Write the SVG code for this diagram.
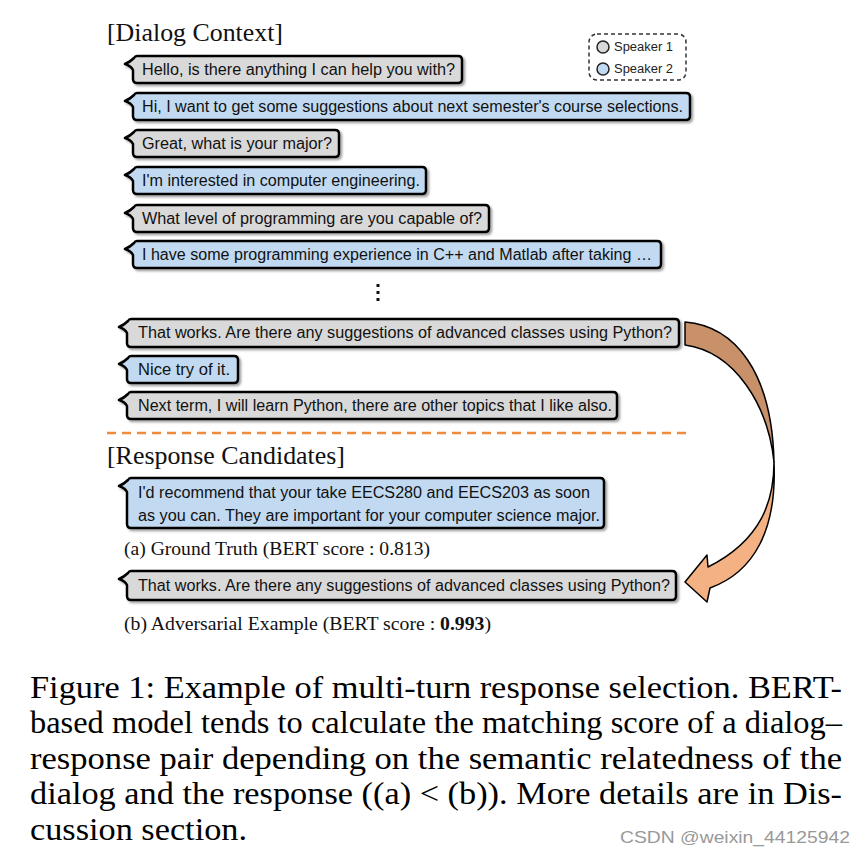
<svg xmlns="http://www.w3.org/2000/svg" width="865" height="857" viewBox="0 0 865 857">
<defs>
<filter id="sh" x="-5%" y="-20%" width="110%" height="150%">
<feDropShadow dx="2" dy="2" stdDeviation="1" flood-color="#666" flood-opacity="0.6"/>
</filter>
<style>
.b{stroke:#000;stroke-width:2.5;stroke-linejoin:round;filter:url(#sh)}
.g{fill:#d9d9d9}
.u{fill:#c2daf1}
.t{font-family:"Liberation Sans",Arial,sans-serif;font-size:16px;fill:#111}
.h{font-family:"Liberation Serif","Times New Roman",serif;font-size:26px;fill:#111}
.s{font-family:"Liberation Serif","Times New Roman",serif;font-size:18px;fill:#111}
.c{font-family:"Liberation Serif","Times New Roman",serif;font-size:32px;fill:#000}
.l{font-family:"Liberation Sans",Arial,sans-serif;font-size:12.5px;fill:#222}
</style>
</defs>
<rect width="865" height="857" fill="#fff"/>

<text class="h" x="107" y="41" textLength="176" lengthAdjust="spacingAndGlyphs">[Dialog Context]</text>

<g id="legend">
<rect x="589" y="34" width="97" height="46" rx="8" fill="none" stroke="#333" stroke-width="1.5" stroke-dasharray="4 3"/>
<circle cx="603" cy="47" r="6" fill="#d9d9d9" stroke="#222" stroke-width="1.5"/>
<circle cx="603" cy="69" r="6" fill="#c2daf1" stroke="#222" stroke-width="1.5"/>
<text class="l" x="614" y="51" textLength="59" lengthAdjust="spacingAndGlyphs">Speaker 1</text>
<text class="l" x="614" y="73" textLength="59" lengthAdjust="spacingAndGlyphs">Speaker 2</text>
</g>

<g id="u1"><path class="b g" d="M137,56 h321 q4,0 4,4 v19 q0,4 -4,4 h-321 q-4,0 -4,-4 v-9 q-2,-4 -8,-6 q5,-2 9,-6 q1,-2 3,-2 z"/>
<text class="t" x="142" y="75" textLength="313" lengthAdjust="spacingAndGlyphs">Hello, is there anything I can help you with?</text></g>

<g id="u2"><path class="b u" d="M137,93 h549 q4,0 4,4 v19 q0,4 -4,4 h-549 q-4,0 -4,-4 v-9 q-2,-4 -8,-6 q5,-2 9,-6 q1,-2 3,-2 z"/>
<text class="t" x="142" y="112" textLength="541" lengthAdjust="spacingAndGlyphs">Hi, I want to get some suggestions about next semester's course selections.</text></g>

<g id="u3"><path class="b g" d="M137,130 h198 q4,0 4,4 v19 q0,4 -4,4 h-198 q-4,0 -4,-4 v-9 q-2,-4 -8,-6 q5,-2 9,-6 q1,-2 3,-2 z"/>
<text class="t" x="142" y="149" textLength="190" lengthAdjust="spacingAndGlyphs">Great, what is your major?</text></g>

<g id="u4"><path class="b u" d="M137,167 h285 q4,0 4,4 v19 q0,4 -4,4 h-285 q-4,0 -4,-4 v-9 q-2,-4 -8,-6 q5,-2 9,-6 q1,-2 3,-2 z"/>
<text class="t" x="142" y="186" textLength="278" lengthAdjust="spacingAndGlyphs">I'm interested in computer engineering.</text></g>

<g id="u5"><path class="b g" d="M137,205 h348 q4,0 4,4 v19 q0,4 -4,4 h-348 q-4,0 -4,-4 v-9 q-2,-4 -8,-6 q5,-2 9,-6 q1,-2 3,-2 z"/>
<text class="t" x="142" y="224" textLength="340" lengthAdjust="spacingAndGlyphs">What level of programming are you capable of?</text></g>

<g id="u6"><path class="b u" d="M137,241 h520 q4,0 4,4 v19 q0,4 -4,4 h-520 q-4,0 -4,-4 v-9 q-2,-4 -8,-6 q5,-2 9,-6 q1,-2 3,-2 z"/>
<text class="t" x="142" y="260" textLength="510" lengthAdjust="spacingAndGlyphs">I have some programming experience in C++ and Matlab after taking …</text></g>

<g id="dots" fill="#111">
<rect x="376.5" y="284" width="3" height="3"/>
<rect x="376.5" y="291" width="3" height="3"/>
<rect x="376.5" y="298" width="3" height="3"/>
</g>

<g id="u7"><path class="b g" d="M131,319 h544 q4,0 4,4 v20 q0,4 -4,4 h-544 q-4,0 -4,-4 v-10 q-2,-4 -8,-6 q5,-2 9,-6 q1,-2 3,-2 z"/>
<text class="t" x="138" y="338" textLength="534" lengthAdjust="spacingAndGlyphs">That works. Are there any suggestions of advanced classes using Python?</text></g>

<g id="u8"><path class="b u" d="M131,356 h103 q4,0 4,4 v19 q0,4 -4,4 h-103 q-4,0 -4,-4 v-9 q-2,-4 -8,-6 q5,-2 9,-6 q1,-2 3,-2 z"/>
<text class="t" x="138" y="375" textLength="92" lengthAdjust="spacingAndGlyphs">Nice try of it.</text></g>

<g id="u9"><path class="b g" d="M131,392 h482 q4,0 4,4 v19 q0,4 -4,4 h-482 q-4,0 -4,-4 v-9 q-2,-4 -8,-6 q5,-2 9,-6 q1,-2 3,-2 z"/>
<text class="t" x="138" y="411" textLength="474" lengthAdjust="spacingAndGlyphs">Next term, I will learn Python, there are other topics that I like also.</text></g>

<line x1="107" y1="433" x2="692" y2="433" stroke="#f08a3c" stroke-width="2.5" stroke-dasharray="9 6"/>

<text class="h" x="107" y="464" textLength="238" lengthAdjust="spacingAndGlyphs">[Response Candidates]</text>

<g id="r1"><path class="b u" d="M131,478 h469 q4,0 4,4 v42 q0,4 -4,4 h-469 q-4,0 -4,-4 v-32 q-2,-4 -8,-6 q5,-2 9,-6 q1,-2 3,-2 z"/>
<text class="t" x="138" y="498" textLength="452" lengthAdjust="spacingAndGlyphs">I'd recommend that your take EECS280 and EECS203 as soon</text>
<text class="t" x="138" y="521" textLength="462" lengthAdjust="spacingAndGlyphs">as you can. They are important for your computer science major.</text></g>
<text class="s" x="124" y="555" textLength="306" lengthAdjust="spacingAndGlyphs">(a) Ground Truth (BERT score : 0.813)</text>

<g id="r2"><path class="b g" d="M131,571 h541 q4,0 4,4 v21 q0,4 -4,4 h-541 q-4,0 -4,-4 v-11 q-2,-4 -8,-6 q5,-2 9,-6 q1,-2 3,-2 z"/>
<text class="t" x="138" y="591" textLength="532" lengthAdjust="spacingAndGlyphs">That works. Are there any suggestions of advanced classes using Python?</text></g>
<text class="s" x="124" y="630" textLength="367" lengthAdjust="spacingAndGlyphs">(b) Adversarial Example (BERT score : <tspan font-weight="bold">0.993</tspan>)</text>

<g id="connectors" stroke="#000" stroke-width="1.5" stroke-linejoin="round">
<path d="M685,322 C735,326 772,372 774,462 C768,405 735,352 685,345 Z" fill="#c8916a"/>
<path d="M774,462 C774,500 762,540 708,567 L707,555 L685,582 L707,602 L710,588 C754,572 777,530 774,462 Z" fill="#f4b183"/>
</g>

<g id="caption">
<text class="c" x="30" y="698" textLength="812" lengthAdjust="spacingAndGlyphs">Figure 1: Example of multi-turn response selection. BERT-</text>
<text class="c" x="30" y="733" textLength="812" lengthAdjust="spacingAndGlyphs">based model tends to calculate the matching score of a dialog–</text>
<text class="c" x="30" y="769" textLength="812" lengthAdjust="spacingAndGlyphs">response pair depending on the semantic relatedness of the</text>
<text class="c" x="30" y="804" textLength="812" lengthAdjust="spacingAndGlyphs">dialog and the response ((a) &lt; (b)). More details are in Dis-</text>
<text class="c" x="30" y="840" textLength="217" lengthAdjust="spacingAndGlyphs">cussion section.</text>
</g>
<text x="850" y="843" text-anchor="end" font-family="'Liberation Sans',Arial,sans-serif" font-size="17" fill="#999" textLength="230" lengthAdjust="spacingAndGlyphs">CSDN @weixin_44125942</text>
</svg>
